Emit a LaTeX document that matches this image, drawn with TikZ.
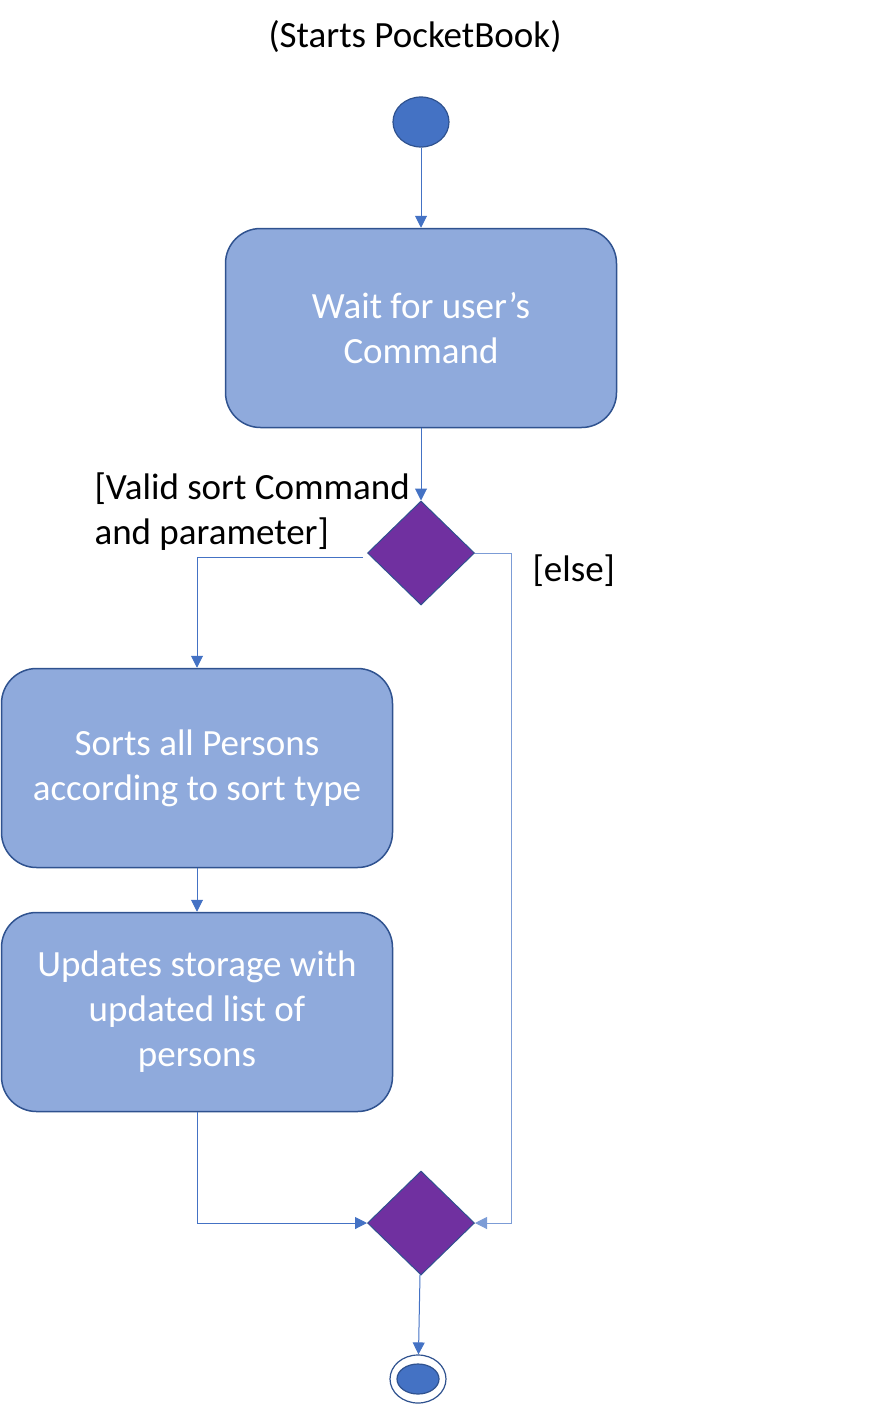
\documentclass[tikz,border=0pt]{standalone}
\usepackage{fontspec}
\setmainfont{Carlito}
\usetikzlibrary{arrows.meta,positioning,shapes.geometric}
\definecolor{actfill}{HTML}{8FAADC}
\definecolor{actline}{HTML}{2F528F}
\definecolor{flowline}{HTML}{4472C4}
\definecolor{decfill}{HTML}{7030A0}
\begin{document}
\begin{tikzpicture}[x=1pt,y=-1pt,>={Triangle[width=12pt,length=12pt]},
 font=\fontsize{37}{45}\selectfont,
 act/.style={draw=actline,line width=1.5pt,rounded corners=35pt,fill=actfill,text=white,minimum width=391pt,minimum height=199pt,align=center},
 dec/.style={diamond,draw=actline,line width=1pt,fill=decfill,minimum width=107pt,minimum height=104pt,inner sep=0pt},
 blob/.style={ellipse,draw=actline,line width=1.2pt,fill=flowline,inner sep=0pt},
 flow/.style={draw=flowline,line width=1pt}]
\useasboundingbox (0,0) rectangle (871,1405);
\node (ttl) at (415,37) {(Starts PocketBook)};
\node[blob,minimum width=56pt,minimum height=50pt] (start) at (421,122) {};
\node[act] (wait) at (421,328) {Wait for user’s\\Command};
\node[dec] (choice) at (421,553) {};
\node[act] (sort) at (197,768) {Sorts all Persons\\according to sort type};
\node[act] (upd) at (197,1012) {Updates storage with\\updated list of\\persons};
\node[dec] (merge) at (421,1223) {};
\node[ellipse,draw=actline,line width=1.2pt,fill=white,minimum width=56pt,minimum height=48pt,inner sep=0pt] (stop) at (418,1379) {};
\node[blob,minimum width=42pt,minimum height=30pt] (stopdot) at (stop) {};
\node[anchor=west,align=left] (validlbl) at (91,512) {[Valid sort Command\\and parameter]};
\node[anchor=west] (elselbl) at (529,571) {[else]};
\coordinate (bend) at (511,553);
\coordinate (leftout) at ([shift={(-4,4)}]choice.west);
\draw[flow,->] (start) -- (wait);
\draw[flow,->] (wait) -- (choice);
\draw[flow,->] (leftout) -| (sort.north);
\draw[flow,->] (sort) -- (upd);
\draw[flow,->] (upd.south) |- (merge.west);
\draw[flow,draw=flowline!70,->] (choice.east) -- (bend) |- (merge.east);
\draw[flow,->] (merge) -- (stop);
\end{tikzpicture}
\end{document}
